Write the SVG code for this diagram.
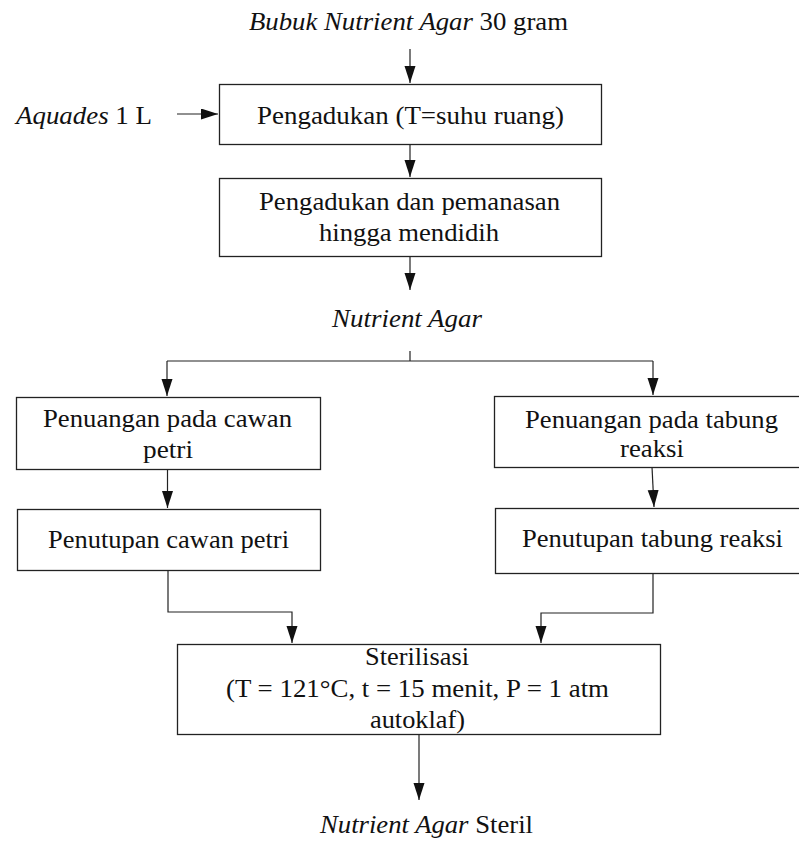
<svg xmlns="http://www.w3.org/2000/svg" width="799" height="843" viewBox="0 0 799 843">
<style>
text{font-family:"Liberation Serif","Times New Roman",serif;font-size:26px;fill:#111;text-anchor:middle}
.i{font-style:italic}
.box{fill:#fff;stroke:#222;stroke-width:1.3}
.ln{fill:none;stroke:#222;stroke-width:1.2}
</style>
<defs>
<marker id="ah" markerUnits="userSpaceOnUse" markerWidth="18" markerHeight="12" refX="17" refY="5.5" orient="auto">
<path d="M0,0 L17,5.5 L0,11 z" fill="#111"/>
</marker>
</defs>
<g id="connectors">
<path class="ln" d="M410,49 V83" marker-end="url(#ah)"/>
<path class="ln" d="M177,114 H218" marker-end="url(#ah)"/>
<path class="ln" d="M410,144 V177" marker-end="url(#ah)"/>
<path class="ln" d="M410,256 V290" marker-end="url(#ah)"/>
<path class="ln" d="M410,351 V361 M167,361 H653"/>
<path class="ln" d="M167,361 V396" marker-end="url(#ah)"/>
<path class="ln" d="M653,361 V395" marker-end="url(#ah)"/>
<path class="ln" d="M167.5,469 V508" marker-end="url(#ah)"/>
<path class="ln" d="M652,467 L654,507" marker-end="url(#ah)"/>
<path class="ln" d="M168,570 V612 H292 V643" marker-end="url(#ah)"/>
<path class="ln" d="M653,573 V613 H541 V643" marker-end="url(#ah)"/>
<path class="ln" d="M419,734 V800" marker-end="url(#ah)"/>
</g>
<g id="input-bubuk">
<text x="408.5" y="30" textLength="319" lengthAdjust="spacingAndGlyphs"><tspan class="i">Bubuk Nutrient Agar</tspan> 30 gram</text>
</g>
<g id="input-aquades">
<text x="84" y="124" textLength="136" lengthAdjust="spacingAndGlyphs"><tspan class="i">Aquades</tspan> 1 L</text>
</g>
<g id="pengadukan">
<rect class="box" x="219.5" y="84.5" width="382" height="60"/>
<text x="410.5" y="124" textLength="307" lengthAdjust="spacingAndGlyphs">Pengadukan (T=suhu ruang)</text>
</g>
<g id="pemanasan">
<rect class="box" x="219.5" y="178.5" width="382" height="78"/>
<text x="409.5" y="210" textLength="301" lengthAdjust="spacingAndGlyphs">Pengadukan dan pemanasan</text>
<text x="409" y="241" textLength="180" lengthAdjust="spacingAndGlyphs">hingga mendidih</text>
</g>
<g id="nutrient-agar">
<text class="i" x="407" y="327" textLength="150" lengthAdjust="spacingAndGlyphs">Nutrient Agar</text>
</g>
<g id="penuangan-cawan">
<rect class="box" x="16.5" y="397.5" width="304" height="72"/>
<text x="167.5" y="427" textLength="249" lengthAdjust="spacingAndGlyphs">Penuangan pada cawan</text>
<text x="168" y="458" textLength="50" lengthAdjust="spacingAndGlyphs">petri</text>
</g>
<g id="penuangan-tabung">
<rect class="box" x="494.5" y="396.5" width="316" height="71"/>
<text x="651.5" y="428" textLength="253" lengthAdjust="spacingAndGlyphs">Penuangan pada tabung</text>
<text x="652" y="457" textLength="64" lengthAdjust="spacingAndGlyphs">reaksi</text>
</g>
<g id="penutupan-cawan">
<rect class="box" x="17.5" y="509.5" width="303" height="61"/>
<text x="168.5" y="548" textLength="241" lengthAdjust="spacingAndGlyphs">Penutupan cawan petri</text>
</g>
<g id="penutupan-tabung">
<rect class="box" x="495.5" y="508.5" width="315" height="65"/>
<text x="652.5" y="547" textLength="261" lengthAdjust="spacingAndGlyphs">Penutupan tabung reaksi</text>
</g>
<g id="sterilisasi">
<rect class="box" x="177.5" y="644.5" width="483" height="90"/>
<text x="417" y="665" textLength="104" lengthAdjust="spacingAndGlyphs">Sterilisasi</text>
<text x="417.5" y="697" textLength="383" lengthAdjust="spacingAndGlyphs">(T = 121°C, t = 15 menit, P = 1 atm</text>
<text x="417.5" y="728" textLength="95" lengthAdjust="spacingAndGlyphs">autoklaf)</text>
</g>
<g id="output-steril">
<text x="426.5" y="833" textLength="213" lengthAdjust="spacingAndGlyphs"><tspan class="i">Nutrient Agar</tspan> Steril</text>
</g>
</svg>
